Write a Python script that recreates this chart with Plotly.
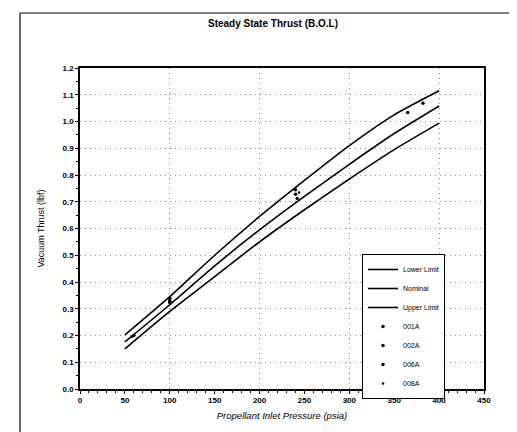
import plotly.graph_objects as go

pressure = [50, 100, 150, 200, 250, 300, 350, 400]
lower_limit = [0.150, 0.290, 0.420, 0.550, 0.670, 0.785, 0.895, 0.994]
nominal = [0.176, 0.315, 0.460, 0.595, 0.720, 0.840, 0.955, 1.058]
upper_limit = [0.202, 0.345, 0.500, 0.645, 0.780, 0.910, 1.025, 1.115]

p_001A = [60, 100, 240]
t_001A = [0.200, 0.338, 0.745]
p_002A = [100, 240, 382]
t_002A = [0.328, 0.728, 1.068]
p_006A = [100, 242, 365]
t_006A = [0.322, 0.712, 1.034]
p_008A = [58, 100, 244]
t_008A = [0.195, 0.332, 0.735]

x_ticks = [0, 50, 100, 150, 200, 250, 300, 350, 400, 450]

fig = go.Figure()
# empty helper trace so the grid-only overlay axis is drawn
fig.add_trace(go.Scatter(x=[], y=[], xaxis="x2", showlegend=False, hoverinfo="skip"))
for name, ys in [("Lower Limit", lower_limit), ("Nominal", nominal), ("Upper Limit", upper_limit)]:
    fig.add_trace(go.Scatter(x=pressure, y=ys, mode="lines", name=name,
                             line=dict(color="black", width=1.6, shape="spline", smoothing=0.6)))
for name, xs, ys, sz in [("001A", p_001A, t_001A, 3.5), ("002A", p_002A, t_002A, 3.5),
                         ("006A", p_006A, t_006A, 3.5), ("008A", p_008A, t_008A, 2.5)]:
    fig.add_trace(go.Scatter(x=xs, y=ys, mode="markers", name=name,
                             marker=dict(color="black", size=sz, symbol="circle")))

font_family = "Liberation Sans, Arial, sans-serif"
grid_dash = "1px,4px"
fig.update_layout(
    width=517, height=432,
    margin=dict(l=72, r=41, t=60, b=51),
    paper_bgcolor="white", plot_bgcolor="white",
    font=dict(family=font_family, color="black"),
    title=dict(text="<b>Steady State Thrust (B.O.L)</b>", x=265/517, xref="container",
               xanchor="center", y=1 - 15/432, yref="container", yanchor="middle",
               font=dict(size=10, family=font_family, color="black")),
    xaxis=dict(range=[0, 450], tickvals=x_ticks, showgrid=False, zeroline=False,
               showline=True, linecolor="black", linewidth=1.5, mirror=True,
               ticks="outside", ticklen=3, tickcolor="black",
               tickfont=dict(size=8, family=font_family, weight="bold"),
               minor=dict(dtick=10, ticks="outside", ticklen=2, tickcolor="black"),
               title=dict(text="<i>Propellant Inlet Pressure (psia)</i>", standoff=8,
                          font=dict(size=9.5, family=font_family))),
    xaxis2=dict(range=[0, 450], overlaying="x", side="bottom", dtick=100, showgrid=True,
                gridcolor="#8c8c8c", griddash=grid_dash, gridwidth=1,
                showticklabels=False, showline=False, zeroline=False, ticks=""),
    yaxis=dict(range=[0, 1.2], dtick=0.1, tickformat=".1f", showgrid=True,
               gridcolor="#8c8c8c", griddash=grid_dash, gridwidth=1, zeroline=False,
               showline=True, linecolor="black", linewidth=1.5, mirror=True,
               ticks="outside", ticklen=3, tickcolor="black",
               tickfont=dict(size=8, family=font_family, weight="bold"),
               minor=dict(dtick=0.05, ticks="outside", ticklen=2, tickcolor="black"),
               title=dict(text="Vacuum Thrust (lbf)", standoff=16,
                          font=dict(size=9, family=font_family))),
    legend=dict(x=(437 - 72) / 404, xanchor="right", y=(381 - 246) / 321, yanchor="top",
                bgcolor="white", bordercolor="black", borderwidth=1,
                font=dict(size=7, family=font_family, color="black"), itemwidth=30,
                tracegroupgap=0),
    showlegend=True,
)

# outer chart frame (left and top edges)
fig.add_shape(type="line", xref="paper", yref="paper", x0=(12 - 72) / 404, x1=(12 - 72) / 404,
              y0=(381 - 5) / 321, y1=-0.3, line=dict(color="black", width=1.2))
fig.add_shape(type="line", xref="paper", yref="paper", x0=(12 - 72) / 404, x1=1.3,
              y0=(381 - 5) / 321, y1=(381 - 5) / 321, line=dict(color="black", width=1.2))

fig.write_html("out.html")
